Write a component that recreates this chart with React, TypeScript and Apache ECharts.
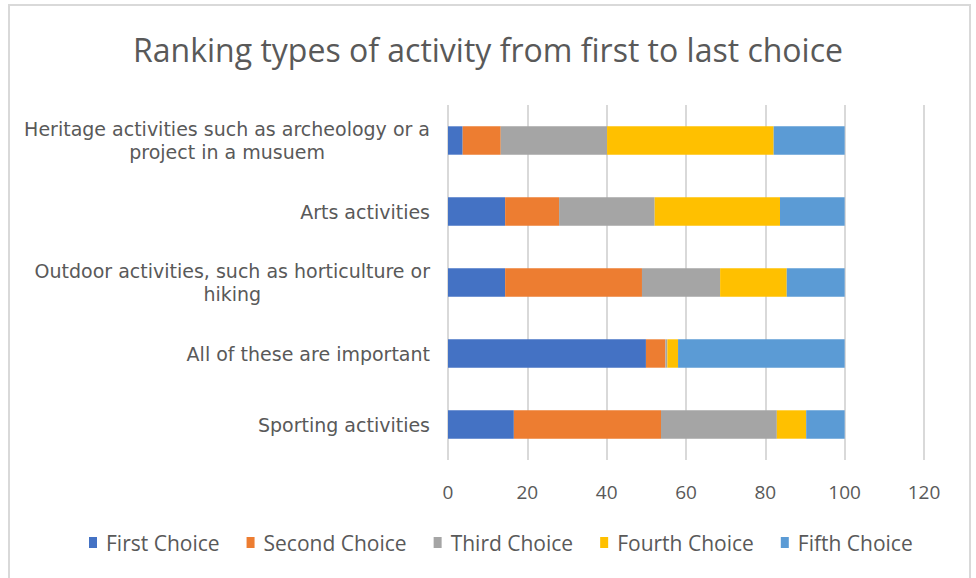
import React, { useEffect, useRef } from "react";
import * as echarts from "echarts";

const categories = [
  "Heritage activities such as archeology or a\nproject in a musuem",
  "Arts activities",
  "Outdoor activities, such as horticulture or\nhiking",
  "All of these are important",
  "Sporting activities",
];
const seriesNames = ["First Choice", "Second Choice", "Third Choice", "Fourth Choice", "Fifth Choice"];
const firstChoice = [3.7, 14.4, 14.4, 49.9, 16.6];
const secondChoice = [9.6, 13.6, 34.5, 4.9, 37.1];
const thirdChoice = [26.8, 24.1, 19.7, 0.5, 29.2];
const fourthChoice = [42.0, 31.6, 16.8, 2.7, 7.4];
const fifthChoice = [17.9, 16.3, 14.6, 42.0, 9.7];
const colors = ["#4472C4", "#ED7D31", "#A5A5A5", "#FFC000", "#5B9BD5"];
const xTicks = { min: 0, max: 120, interval: 20 };

export default function App() {
  const ref = useRef<HTMLDivElement>(null);
  useEffect(() => {
    if (!ref.current) return;
    const chart = echarts.init(ref.current, undefined, { renderer: "svg" });
    const values = [firstChoice, secondChoice, thirdChoice, fourthChoice, fifthChoice];
    chart.setOption({
      animation: false,
      title: {
        text: "Ranking types of activity from first to last choice",
        left: "center",
        top: 28,
        textStyle: { fontFamily: "Open Sans", fontSize: 32, fontWeight: "normal", color: "#595959" },
      },
      graphic: [
        {
          type: "rect",
          shape: { x: 9, y: 5, width: 961, height: 600 },
          style: { fill: "none", stroke: "#d9d9d9", lineWidth: 2 },
          silent: true,
        },
      ],
      legend: {
        bottom: 20,
        left: 84,
        itemWidth: 8,
        itemHeight: 11,
        itemGap: 27,
        icon: "rect",
        textStyle: { fontFamily: "Open Sans", fontSize: 21, color: "#595959", padding: [0, 0, 0, 4] },
        data: seriesNames,
      },
      grid: { left: 448, right: 52, top: 105, bottom: 118, containLabel: false },
      xAxis: {
        type: "value",
        min: xTicks.min,
        max: xTicks.max,
        interval: xTicks.interval,
        axisLine: { show: false },
        axisTick: { show: false },
        splitLine: { show: true, lineStyle: { color: "#d9d9d9", width: 2 } },
        axisLabel: { fontFamily: "Open Sans", fontSize: 19, color: "#595959", margin: 22 },
      },
      yAxis: {
        type: "category",
        inverse: true,
        data: categories,
        axisLine: { show: false },
        axisTick: { show: false },
        axisLabel: {
          margin: 18,
          fontFamily: "DejaVu Sans",
          fontSize: 19,
          color: "#595959",
          lineHeight: 23,
          formatter: (v: string) => v.split("\n").map((l) => `{c|${l}}`).join("\n"),
          rich: { c: { align: "center", fontFamily: "DejaVu Sans", fontSize: 19, color: "#595959", lineHeight: 23 } },
        },
      },
      series: seriesNames.map((name, i) => ({
        name,
        type: "bar",
        stack: "total",
        data: values[i],
        barCategoryGap: "60%",
        itemStyle: { color: colors[i] },
      })),
    });
    return () => chart.dispose();
  }, []);
  return <div ref={ref} style={{ width: 976, height: 578, position: "absolute", left: 0, top: 0, background: "#fff" }} />;
}
